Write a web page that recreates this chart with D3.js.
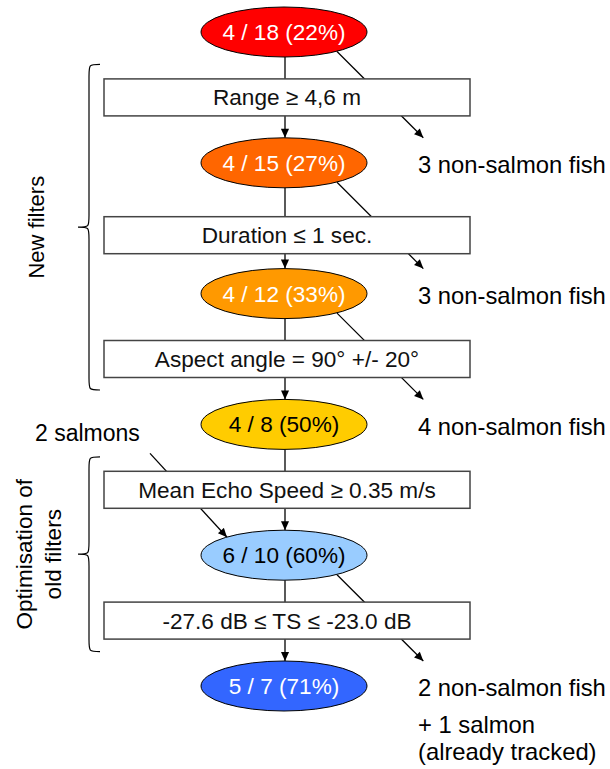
<!DOCTYPE html>
<html>
<head>
<meta charset="utf-8">
<script src="https://cdn.jsdelivr.net/npm/d3@7"></script>
<style>
  body { margin: 0; background: #fff; }
  text { font-family: "Liberation Sans", Arial, Helvetica, sans-serif; }
</style>
</head>
<body>
<svg id="chart"></svg>
<script>
// ---------------- data ----------------
const stageLabels = ["4 / 18 (22%)", "4 / 15 (27%)", "4 / 12 (33%)", "4 / 8 (50%)", "6 / 10 (60%)", "5 / 7 (71%)"];
const stageFill   = ["#ff0000", "#ff6600", "#ff9900", "#ffcc00", "#99ccff", "#3366ff"];
const stageInk    = ["#fff", "#fff", "#fff", "#000", "#000", "#fff"];

const filterLabels = ["Range \u2265 4,6 m", "Duration \u2264 1 sec.", "Aspect angle = 90\u00b0 +/- 20\u00b0",
                      "Mean Echo Speed \u2265 0.35 m/s", "-27.6 dB \u2264 TS \u2264 -23.0 dB"];

// removed fish after each filter (index = filter, target stage = index + 1)
const removedFilters = [0, 1, 2, 4];
const removedLabels  = ["3 non-salmon fish", "3 non-salmon fish", "4 non-salmon fish", "2 non-salmon fish"];
const extraNote      = ["+ 1 salmon", "(already tracked)"];

// added fish
const addedFilter = 3;
const addedLabel  = "2 salmons";

// groups of filters: [first filter, last filter]
const groupRanges = [[0, 2], [3, 4]];
const groupLabels = [["New filters"], ["Optimisation of", "old filters"]];

// ---------------- layout ----------------
const width = 610, height = 769;
const cx = 285, rx = 83, ry = 25;
const boxLeft = 104, boxWidth = 366, boxHeight = 37;
const boxNudge = [0, 7, 0, 0, 0];
const fontSize = 22.6, sideSize = 23.8;

const svg = d3.select("#chart").attr("width", width).attr("height", height);

const y = d3.scaleLinear().domain([0, stageLabels.length - 1]).range([32, 686]);

svg.append("defs").append("marker")
    .attr("id", "head")
    .attr("viewBox", "0 -5 10 10")
    .attr("refX", 10)
    .attr("refY", 0)
    .attr("markerUnits", "userSpaceOnUse")
    .attr("markerWidth", 10)
    .attr("markerHeight", 9)
    .attr("orient", "auto")
  .append("path")
    .attr("d", "M0,-4.5L10,0L0,4.5Z")
    .attr("fill", "#000");

// connectors (drawn first, boxes cover them)
const links = svg.append("g").attr("stroke", "#000").attr("stroke-width", 1.3).attr("fill", "none");

// vertical flow
links.selectAll("line.flow")
    .data(d3.range(stageLabels.length - 1))
    .join("line")
        .classed("flow", true)
        .attr("x1", cx).attr("y1", i => y(i) + ry)
        .attr("x2", cx).attr("y2", i => y(i + 1) - ry)
        .attr("marker-end", "url(#head)");

// diagonal arrows for removed fish
const sdx = 52, sdy = ry * Math.sqrt(1 - (sdx / rx) ** 2);
links.selectAll("line.removed")
    .data(removedFilters)
    .join("line")
        .classed("removed", true)
        .attr("x1", cx + sdx).attr("y1", i => y(i) + sdy)
        .attr("x2", i => cx + sdx + (y(i + 1) - ry - y(i) - sdy))
        .attr("y2", i => y(i + 1) - ry)
        .attr("marker-end", "url(#head)");

// arrow for added salmons
links.append("line")
    .attr("x1", 150).attr("y1", y(addedFilter) + 29)
    .attr("x2", cx - 58).attr("y2", y(addedFilter + 1) - 18)
    .attr("marker-end", "url(#head)");

// filter boxes
const boxes = svg.append("g").selectAll("g")
    .data(filterLabels)
    .join("g")
        .attr("transform", (d, i) => `translate(${boxLeft},${(y(i) + y(i + 1)) / 2 + boxNudge[i] - boxHeight / 2})`);
boxes.append("rect")
    .attr("width", boxWidth).attr("height", boxHeight)
    .attr("fill", "#fff").attr("stroke", "#444").attr("stroke-width", 1.5);
boxes.append("text")
    .attr("x", boxWidth / 2).attr("y", boxHeight / 2).attr("dy", "0.35em")
    .attr("text-anchor", "middle").attr("font-size", fontSize).attr("fill", "#111")
    .text(d => d);

// stage ellipses
const stages = svg.append("g").selectAll("g")
    .data(stageLabels)
    .join("g")
        .attr("transform", (d, i) => `translate(${cx - 1},${y(i)})`);
stages.append("ellipse")
    .attr("rx", rx).attr("ry", ry)
    .attr("fill", (d, i) => stageFill[i])
    .attr("stroke", "#000").attr("stroke-width", 1);
stages.append("text")
    .attr("dy", "0.35em").attr("text-anchor", "middle")
    .attr("font-size", fontSize)
    .attr("fill", (d, i) => stageInk[i])
    .text(d => d);

// side labels
const side = svg.append("g").attr("font-size", sideSize).attr("fill", "#000");
side.selectAll("text.removed")
    .data(removedFilters)
    .join("text")
        .classed("removed", true)
        .attr("x", 418).attr("y", i => y(i + 1) + 2).attr("dy", "0.35em")
        .text((d, k) => removedLabels[k]);
side.selectAll("text.note")
    .data(extraNote)
    .join("text")
        .classed("note", true)
        .attr("x", 418).attr("y", (d, k) => y(stageLabels.length - 1) + 39 + k * 27).attr("dy", "0.35em")
        .text(d => d);
side.append("text")
    .attr("x", 35).attr("y", y(addedFilter) + 9).attr("dy", "0.35em")
    .attr("font-size", 23)
    .text(addedLabel);

// braces with group labels
const brace = (y0, y1, xTip, xMid, xEnd, r) => {
    const ym = (y0 + y1) / 2;
    return `M${xEnd},${y0} C${xMid},${y0} ${xMid},${y0} ${xMid},${y0 + r}
            L${xMid},${ym - r} C${xMid},${ym} ${xMid},${ym} ${xTip},${ym}
            C${xMid},${ym} ${xMid},${ym} ${xMid},${ym + r}
            L${xMid},${y1 - r} C${xMid},${y1} ${xMid},${y1} ${xEnd},${y1}`;
};
const groups = svg.append("g").selectAll("g")
    .data(groupRanges)
    .join("g");
groups.append("path")
    .attr("d", ([a, b]) => {
        const top = (y(a) + y(a + 1)) / 2 - 33;
        const bot = (y(b) + y(b + 1)) / 2 + 31;
        return brace(top, bot, 78, 89, 100, 12);
    })
    .attr("fill", "none").attr("stroke", "#000").attr("stroke-width", 1.2);
groups.each(function ([a, b], gi) {
    const top = (y(a) + y(a + 1)) / 2 - 33;
    const bot = (y(b) + y(b + 1)) / 2 + 31;
    const lines = groupLabels[gi];
    const xs = lines.length === 1 ? [36] : [24, 53];
    d3.select(this).selectAll("text")
        .data(lines)
        .join("text")
            .attr("transform", (d, k) => `translate(${xs[k]},${(top + bot) / 2}) rotate(-90)`)
            .attr("dy", "0.35em").attr("text-anchor", "middle")
            .attr("font-size", lines.length === 1 ? 22 : 22.6).attr("fill", "#000")
            .text(d => d);
});
</script>
</body>
</html>
